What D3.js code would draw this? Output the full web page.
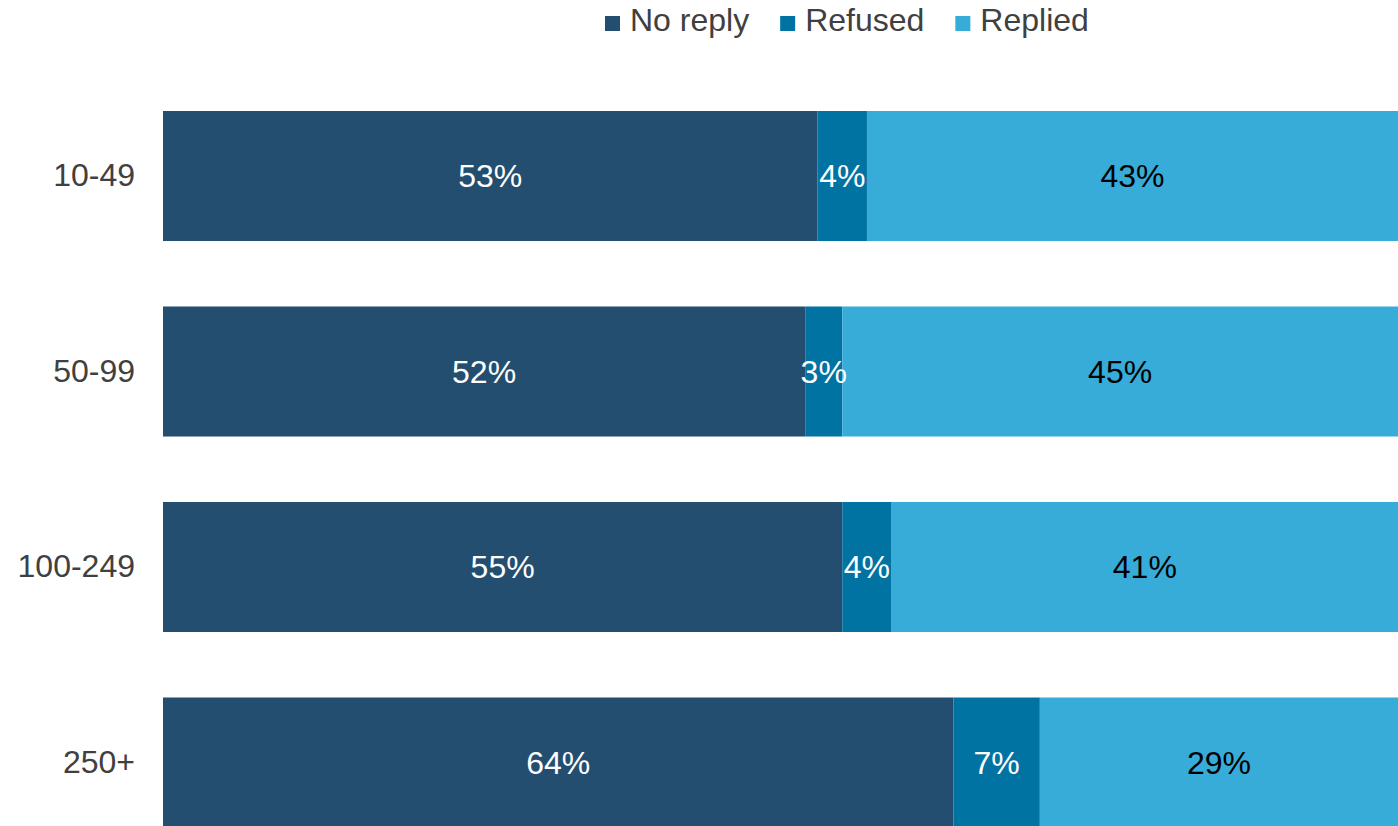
<!DOCTYPE html>
<html>
<head>
<meta charset="utf-8">
<script src="https://cdn.jsdelivr.net/npm/d3@7/dist/d3.min.js"></script>
<style>
  html, body { margin: 0; padding: 0; background: #ffffff; }
  svg { display: block; font-family: "Liberation Sans", Arial, sans-serif; }
</style>
</head>
<body>
<svg id="chart" width="1398" height="826"></svg>
<script>
// Company size bands and the share of each response outcome (%)
const categories = ["10-49", "50-99", "100-249", "250+"];
const seriesNames = ["No reply", "Refused", "Replied"];
const noReply = [53, 52, 55, 64];
const refused = [4, 3, 4, 7];
const replied = [43, 45, 41, 29];
const colors = ["#234e6f", "#0073a3", "#37acd9"];
const labelColors = ["#ffffff", "#ffffff", "#000000"];

const width = 1398, height = 826;
const fontSize = 32;
const svg = d3.select("#chart");

const rows = categories.map((c, i) => ({
  cat: c, "No reply": noReply[i], "Refused": refused[i], "Replied": replied[i]
}));
const stacked = d3.stack().keys(seriesNames)(rows);

const x = d3.scaleLinear().domain([0, 100]).range([163, 1398]);
const step = 195.5, pIn = 0.335, pOut = 0.1675;
const y0 = 111 - pOut * step;
const y = d3.scaleBand()
  .domain(categories)
  .range([y0, y0 + step * (categories.length - pIn + 2 * pOut)])
  .paddingInner(pIn)
  .paddingOuter(pOut);

// Stacked segments
const layers = svg.append("g").selectAll("g")
  .data(stacked)
  .join("g")
  .attr("fill", (d, i) => colors[i]);

layers.selectAll("rect")
  .data(d => d)
  .join("rect")
  .attr("x", d => x(d[0]))
  .attr("width", d => x(d[1]) - x(d[0]))
  .attr("y", d => y(d.data.cat))
  .attr("height", y.bandwidth());

// Percentage labels centred in each segment
stacked.forEach((layer, i) => {
  svg.append("g").selectAll("text")
    .data(layer)
    .join("text")
    .attr("x", d => (x(d[0]) + x(d[1])) / 2)
    .attr("y", d => y(d.data.cat) + y.bandwidth() / 2)
    .attr("dy", "0.35em")
    .attr("text-anchor", "middle")
    .attr("font-size", fontSize)
    .attr("fill", labelColors[i])
    .text(d => (d[1] - d[0]) + "%");
});

// Category axis (labels only)
const yAxis = d3.axisLeft(y).tickSize(0).tickPadding(28);
const gy = svg.append("g").attr("transform", "translate(163,0)").call(yAxis);
gy.select(".domain").remove();
gy.selectAll("text")
  .attr("font-size", fontSize)
  .attr("font-family", "Liberation Sans, Arial, sans-serif")
  .attr("fill", "#404040");

// Legend
const legend = svg.append("g");
let lx = 605;
seriesNames.forEach((name, i) => {
  const g = legend.append("g").attr("transform", `translate(${lx},0)`);
  g.append("rect").attr("x", 0).attr("y", 16).attr("width", 15).attr("height", 15).attr("fill", colors[i]);
  const t = g.append("text")
    .attr("x", 25).attr("y", 31)
    .attr("font-size", fontSize).attr("fill", "#404040")
    .text(name);
  lx += 25 + t.node().getComputedTextLength() + 31;
});
</script>
</body>
</html>
